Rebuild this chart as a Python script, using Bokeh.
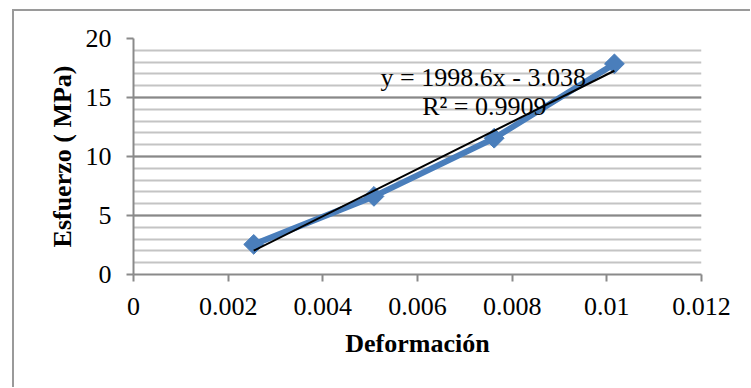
import numpy as np
from bokeh.plotting import figure
from bokeh.models import Range1d, FixedTicker, Label, ColumnDataSource
from bokeh.embed import file_html
from bokeh.resources import INLINE

# ---- data ----
deformacion = [0.00254, 0.00508, 0.00762, 0.01016]
esfuerzo = [2.55, 6.62, 11.55, 17.85]
x_ticks = [0, 0.002, 0.004, 0.006, 0.008, 0.01, 0.012]
x_tick_labels = ["0", "0.002", "0.004", "0.006", "0.008", "0.01", "0.012"]
y_ticks = [0, 5, 10, 15, 20]
y_minor_ticks = list(range(0, 21))
eq_text = "y = 1998.6x - 3.038"
r2_text = "R² = 0.9909"
x_title = "Deformación"
y_title = "Esfuerzo ( MPa)"

FONT = "Liberation Serif"

p = figure(frame_width=568, frame_height=236, output_backend="svg", toolbar_location=None,
           x_range=Range1d(0, 0.012), y_range=Range1d(0, 20),
           min_border_left=119, min_border_top=27, min_border_right=49, min_border_bottom=113)
p.styles = {"margin-left": "12px", "margin-top": "9px",
            "border-left": "2px solid #9a9a9a", "border-top": "2px solid #9a9a9a",
            "border-right": "none", "border-bottom": "none"}
p.outline_line_color = None
p.background_fill_color = "white"
p.border_fill_color = "white"

p.xaxis.ticker = FixedTicker(ticks=x_ticks)
p.xaxis.major_label_overrides = {t: l for t, l in zip(x_ticks, x_tick_labels)}
p.yaxis.ticker = FixedTicker(ticks=y_ticks, minor_ticks=y_minor_ticks)

for ax in (p.xaxis[0], p.yaxis[0]):
    ax.axis_line_color = "#8a8a8a"
    ax.axis_line_width = 2
    ax.major_tick_line_color = "#8a8a8a"
    ax.major_tick_line_width = 2
    ax.major_tick_out = 7
    ax.major_tick_in = 0
    ax.minor_tick_line_color = None
    ax.major_label_text_font = FONT
    ax.major_label_text_font_size = "26px"
    ax.major_label_text_color = "black"
    ax.axis_label_text_font = FONT
    ax.axis_label_text_font_size = "26px"
    ax.axis_label_text_font_style = "bold"
    ax.axis_label_text_color = "black"

p.xaxis.axis_label = x_title
p.yaxis.axis_label = y_title
p.xaxis.major_label_standoff = 16
p.yaxis.major_label_standoff = 15
p.xaxis.axis_label_standoff = 11
p.yaxis.axis_label_standoff = 6

p.xgrid.grid_line_color = None
p.ygrid.grid_line_color = "#888888"
p.ygrid.grid_line_width = 2
p.ygrid.minor_grid_line_color = "#c4c4c4"
p.ygrid.minor_grid_line_width = 2

src = ColumnDataSource(dict(x=deformacion, y=esfuerzo))
p.line("x", "y", source=src, line_color="#4a7ebb", line_width=6)
p.scatter("x", "y", source=src, marker="square", angle=np.pi / 4, size=14,
          fill_color="#4a7ebb", line_color="#4a7ebb")

# linear trendline from the data
m, b = np.polyfit(deformacion, esfuerzo, 1)
tx = [min(deformacion), max(deformacion)]
p.line(tx, [m * v + b for v in tx], line_color="black", line_width=2)

p.add_layout(Label(x=0.00522, y=16.7, text=eq_text, text_font=FONT,
                   text_font_size="26px", text_color="black",
                   text_baseline="alphabetic", text_align="left"))
p.add_layout(Label(x=0.0061, y=14.2, text=r2_text, text_font=FONT,
                   text_font_size="26px", text_color="black",
                   text_baseline="alphabetic", text_align="left"))

open("out.html", "w").write(file_html(p, INLINE))
